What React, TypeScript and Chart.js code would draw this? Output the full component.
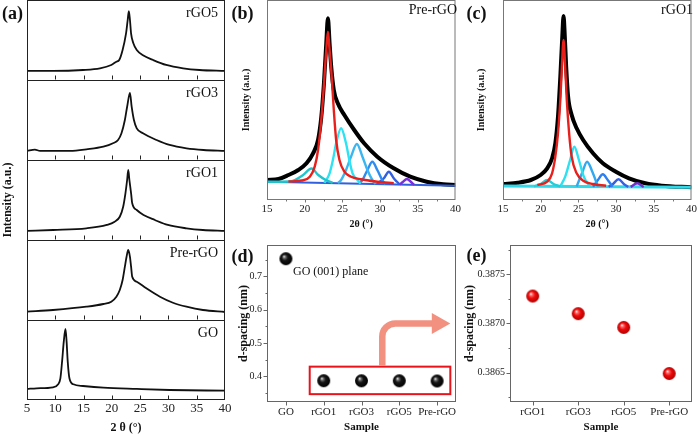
import React, { useEffect, useRef } from 'react';
import { Chart, registerables } from 'chart.js';

Chart.register(...registerables);

const FONT = "'Liberation Serif', 'Times New Roman', Times, serif";

// ---------------- Panel (a): XRD patterns (2θ, intensity a.u.) ----------------
const xrdAxisTicks = [5, 10, 15, 20, 25, 30, 35, 40];
const xrdInnerTicks = [10, 15, 20, 25, 30, 35];
const stackNames = ['GO', 'Pre-rGO', 'rGO1', 'rGO3', 'rGO5'];

const xrd_rGO5: [number, number][] = [
  [5, 11.3], [9.6, 11.3], [14.9, 12.5], [17.9, 14.6], [19.9, 18.8], [20.8, 22.9], [21.3, 25],
  [21.9, 37.5], [22.5, 58], [22.8, 75], [23.0, 86], [23.2, 75], [23.4, 58], [23.8, 46],
  [24.4, 37.5], [25.5, 31], [27.3, 25], [29.6, 18.8], [32.6, 14.6], [35.5, 12.5], [40, 11.3],
];
const xrd_rGO3: [number, number][] = [
  [5, 11.3], [6.4, 13], [7.3, 11.3], [12.6, 11.5], [15.5, 13.4], [18.5, 16.6], [20.2, 20.9],
  [21.1, 25], [21.7, 33.4], [22.3, 50], [22.7, 66.6], [23.2, 84], [23.5, 66.6], [23.9, 50],
  [24.4, 39.6], [25.5, 33.4], [27.9, 25], [30.2, 18.8], [33.2, 14.6], [36.2, 12.5], [40, 11.3],
];
const xrd_rGO1: [number, number][] = [
  [5, 11.3], [9.6, 12.5], [15.5, 14.6], [19.1, 18.8], [20.5, 22.9], [21.4, 29.1], [22.0, 41.6],
  [22.4, 58.4], [22.7, 75], [22.9, 87.5], [23.1, 75], [23.4, 58.4], [23.6, 45.9], [24.4, 37.5],
  [25.6, 31.3], [27.6, 25], [29.9, 18.8], [33.2, 14.6], [36.1, 12.5], [40, 11.3],
];
const xrd_PrerGO: [number, number][] = [
  [5, 10.4], [9.6, 12.5], [15.5, 16.6], [18.5, 20], [19.9, 22.9], [20.8, 29.1], [21.4, 37.5],
  [21.9, 50], [22.3, 66.6], [22.6, 79], [22.9, 87.5], [23.2, 79], [23.4, 66.6], [23.6, 54],
  [24.4, 47.9], [26.1, 39.6], [28.5, 29.1], [30.8, 21.6], [33.2, 16.6], [36.1, 12.5], [40, 10],
];
const xrd_GO: [number, number][] = [
  [5, 13.8], [6.7, 14.6], [9.6, 15.9], [10.5, 19.6], [10.9, 27.1], [11.2, 47.9], [11.5, 72.9],
  [11.8, 88.8], [12.0, 72.9], [12.2, 47.9], [12.5, 27.1], [13.2, 19.6], [14.9, 17.5],
  [18.5, 15.4], [24.4, 13.8], [30.2, 12.5], [40, 11.6],
];
const xrdSeries: Record<string, [number, number][]> = {
  GO: xrd_GO, 'Pre-rGO': xrd_PrerGO, rGO1: xrd_rGO1, rGO3: xrd_rGO3, rGO5: xrd_rGO5,
};

// ---------------- Panel (b): Pre-rGO peak fitting ----------------
const fitTicks = [15, 20, 25, 30, 35, 40];
const fitMinorTicks = [17.5, 22.5, 27.5, 32.5, 37.5];

const b_measured: [number, number][] = [
  [15, 20], [16.53, 21], [17.84, 25], [19.15, 30], [20.24, 36.7], [21.11, 46.7], [21.77, 60],
  [22.2, 83], [22.55, 116.7], [22.86, 156.7], [23.08, 181.7], [23.3, 156.7], [23.52, 133],
  [23.86, 110], [24.39, 96.7], [25.26, 85], [26.57, 70], [27.88, 56.7], [29.63, 43.3],
  [31.81, 31.7], [34.0, 23.3], [36.18, 18.3], [38.36, 15.7], [40, 15],
];
const b_peak1: [number, number][] = [
  [17.84, 18.5], [19.59, 19.5], [20.68, 23.3], [21.33, 33.3], [21.77, 50], [22.2, 80],
  [22.55, 115], [22.86, 150], [23.08, 168.3], [23.3, 150], [23.52, 130], [23.86, 90],
  [24.17, 60], [24.61, 40], [25.26, 28.3], [26.14, 23.3], [27.45, 20.7], [29.63, 18.3], [31.81, 16.7],
];
const b_peak2: [number, number][] = [
  [15, 18.3], [18.0, 18.5], [18.7, 20], [19.8, 25], [20.9, 31.5], [21.8, 25], [22.8, 20], [23.7, 17.2],
];
const b_peak3: [number, number][] = [
  [22.6, 17.1], [22.86, 20], [23.3, 26.7], [23.74, 40], [24.17, 56.7], [24.83, 71.7],
  [25.48, 56.7], [25.92, 40], [26.35, 26.7], [27.0, 20], [27.4, 16.3],
];
const b_peak4: [number, number][] = [
  [24.4, 16.8], [24.83, 20], [25.48, 30], [26.14, 43.3], [26.92, 56], [27.66, 43.3],
  [28.32, 30], [28.97, 20], [29.4, 16.0],
];
const b_peak5: [number, number][] = [
  [27.2, 16.35], [27.66, 20], [28.32, 30], [28.97, 38.3], [29.63, 30], [30.28, 20], [30.7, 15.8],
];
const b_peak6: [number, number][] = [
  [29.6, 16.0], [30.1, 19], [30.5, 21.7], [31.16, 28.3], [31.81, 21.7], [32.2, 18.5], [32.6, 15.5],
];
const b_peak7: [number, number][] = [
  [32.6, 15.5], [33.0, 18], [33.56, 21], [34.1, 18], [34.5, 15.2],
];
const b_baseline: [number, number][] = [[15, 18.3], [40, 14.3]];

// ---------------- Panel (c): rGO1 peak fitting ----------------
const c_measured: [number, number][] = [
  [15, 16], [16.95, 17.3], [18.69, 20], [19.99, 25], [20.86, 31.7], [21.51, 41.7], [21.94, 56.7],
  [22.29, 83], [22.6, 123], [22.86, 163], [23.03, 184], [23.2, 163], [23.38, 133], [23.64, 103],
  [24.11, 85], [24.77, 71.7], [25.63, 60], [26.94, 46.7], [28.24, 36.7], [29.97, 28.3],
  [31.71, 21.7], [33.88, 16.7], [36.05, 14.3], [40, 12.7],
];
const c_peak1: [number, number][] = [
  [19.56, 15], [20.86, 18.3], [21.51, 26.7], [21.94, 43.3], [22.29, 66.7], [22.6, 100],
  [22.81, 133], [23.03, 160], [23.25, 133], [23.46, 100], [23.77, 66.7], [24.11, 43.3],
  [24.77, 26.7], [25.63, 19.3], [26.94, 16], [28.67, 14.3],
];
const c_peak2: [number, number][] = [[19.12, 13.7], [20.0, 16], [20.86, 20], [21.7, 16], [22.6, 13.6]];
const c_peak3: [number, number][] = [
  [22.6, 13.6], [23.25, 23.3], [23.9, 40], [24.46, 53.3], [25.07, 40], [25.72, 23.3], [26.5, 13.4],
];
const c_peak4: [number, number][] = [
  [24.77, 13.5], [25.55, 28.3], [26.15, 38.3], [26.85, 28.3], [27.59, 13.3],
];
const c_peak5: [number, number][] = [
  [26.94, 13.3], [27.59, 20], [28.24, 25.7], [28.89, 20], [29.54, 13.2],
];
const c_peak6: [number, number][] = [
  [29.0, 13.2], [29.54, 15.7], [30.32, 20.7], [31.06, 15.7], [31.6, 13.1],
];
const c_peak7: [number, number][] = [[31.93, 13.1], [32.8, 16.7], [33.66, 13.0]];
const c_baseline: [number, number][] = [[15, 14], [40, 12.7]];

// ---------------- Panels (d), (e): d-spacing ----------------
const dSamples = ['GO', 'rGO1', 'rGO3', 'rGO5', 'Pre-rGO'];
const dSpacing = [0.7524, 0.38728, 0.3871, 0.38696, 0.38649];
const dYTicks = [0.4, 0.5, 0.6, 0.7];
const dYMinor = [0.35, 0.45, 0.55, 0.65, 0.75];

const eSamples = ['rGO1', 'rGO3', 'rGO5', 'Pre-rGO'];
const eSpacing = [0.38728, 0.3871, 0.38696, 0.38649];
const eYTicks = [0.3865, 0.387, 0.3875];
const eYMinor = [0.38625, 0.38675, 0.38725, 0.38775];

// ---------------- plugins ----------------
const framePlugin = {
  id: 'frame',
  afterDraw(chart: any, _args: any, o: any) {
    if (!o || !o.color) return;
    const { ctx, chartArea: a, scales } = chart;
    const xs = scales.x;
    const ys = scales.y;
    ctx.save();
    ctx.strokeStyle = o.color;
    ctx.lineWidth = 1;
    ctx.strokeRect(a.left + 0.5, a.top + 0.5, a.right - a.left - 1, a.bottom - a.top - 1);
    ctx.beginPath();
    (o.bands || []).forEach((v: number) => {
      const yy = Math.round(ys.getPixelForValue(v)) + 0.5;
      ctx.moveTo(a.left, yy);
      ctx.lineTo(a.right, yy);
    });
    const rows: number[] = o.xRows ? o.xRows.map((v: number) => Math.round(ys.getPixelForValue(v)) - 0.5) : [a.bottom - 0.5];
    const xDir = o.xIn ? -1 : 1;
    const drawX = (vals: number[], len: number) => {
      vals.forEach((v: number) => {
        const xx = Math.round(xs.getPixelForValue(v)) + 0.5;
        rows.forEach((ry: number) => {
          ctx.moveTo(xx, ry);
          ctx.lineTo(xx, ry + xDir * len);
        });
      });
    };
    drawX(o.xMajor || [], o.xLen || 4);
    drawX(o.xMinor || [], o.xMinorLen || 2);
    const drawY = (vals: number[], len: number) => {
      vals.forEach((v: number) => {
        const yy = Math.round(ys.getPixelForValue(v)) + 0.5;
        ctx.moveTo(a.left + 0.5, yy);
        ctx.lineTo(a.left + 0.5 - len, yy);
      });
    };
    drawY(o.yMajor || [], o.yLen || 4);
    drawY(o.yMinor || [], o.yMinorLen || 2);
    ctx.stroke();
    ctx.restore();
  },
};

const calloutPlugin = {
  id: 'callout',
  beforeDatasetsDraw(chart: any, _args: any, o: any) {
    if (!o || !o.box) return;
    const { ctx, scales } = chart;
    const x = scales.x;
    const y = scales.y;
    const bx0 = x.getPixelForValue(o.box.x0);
    const bx1 = x.getPixelForValue(o.box.x1);
    const byTop = y.getPixelForValue(o.box.yTop);
    const byBot = y.getPixelForValue(o.box.yBottom);
    ctx.save();
    ctx.strokeStyle = o.boxColor;
    ctx.lineWidth = 2;
    ctx.strokeRect(bx0, byTop, bx1 - bx0, byBot - byTop);
    const ax = x.getPixelForValue(o.arrow.x0);
    const ay = y.getPixelForValue(o.arrow.y);
    const tip = x.getPixelForValue(o.arrow.xTip);
    const base = x.getPixelForValue(o.arrow.xHead);
    const r = o.arrow.radius;
    ctx.strokeStyle = o.arrowColor;
    ctx.lineWidth = o.arrow.width;
    ctx.beginPath();
    ctx.moveTo(ax, byTop - 1);
    ctx.lineTo(ax, ay + r);
    ctx.arcTo(ax, ay, ax + r, ay, r);
    ctx.lineTo(base + 1, ay);
    ctx.stroke();
    ctx.fillStyle = o.arrowColor;
    ctx.beginPath();
    ctx.moveTo(base, ay - o.arrow.head);
    ctx.lineTo(tip, ay);
    ctx.lineTo(base, ay + o.arrow.head);
    ctx.closePath();
    ctx.fill();
    ctx.restore();
  },
};

function sphere(radius: number, stops: [number, string][]) {
  const c = document.createElement('canvas');
  const s = Math.ceil(radius * 2) + 2;
  c.width = s;
  c.height = s;
  const g = c.getContext('2d')!;
  const cx = s / 2;
  const grad = g.createRadialGradient(cx - radius * 0.3, cx - radius * 0.35, radius * 0.05, cx, cx, radius);
  stops.forEach(([p, col]) => grad.addColorStop(p, col));
  g.fillStyle = grad;
  g.beginPath();
  g.arc(cx, cx, radius, 0, Math.PI * 2);
  g.fill();
  return c;
}

const toXY = (pts: [number, number][], off = 0) => pts.map(([x, y]) => ({ x, y: y + off }));

const noPlugins = { legend: { display: false }, tooltip: { enabled: false } };

// ---------------- chart configs ----------------
function configA(): any {
  return {
    type: 'line',
    plugins: [framePlugin],
    data: {
      datasets: stackNames.map((n, i) => ({
        label: n,
        data: toXY(xrdSeries[n], i * 100),
        borderColor: '#111',
        borderWidth: 1.8,
        pointRadius: 0,
        cubicInterpolationMode: 'monotone',
      })),
    },
    options: {
      animation: false,
      responsive: false,
      layout: { padding: { top: 0, right: 10, left: 0, bottom: 0 } },
      plugins: {
        ...noPlugins,
        frame: { color: '#222', bands: [100, 200, 300, 400], xRows: [0, 100, 200, 300, 400], xIn: true, xMajor: xrdInnerTicks, xLen: 4 },
      },
      scales: {
        x: {
          type: 'linear', min: 5, max: 40,
          afterBuildTicks: (s: any) => { s.ticks = xrdAxisTicks.map((v) => ({ value: v })); },
          afterFit: (s: any) => { s.height = 34; },
          grid: { display: false, drawTicks: false }, border: { display: false },
          ticks: { padding: 1, color: '#222', maxRotation: 0, font: { size: 13, family: FONT } },
          title: { display: true, text: '2 θ (°)', color: '#111', padding: { top: 0, bottom: 0.5 }, font: { size: 12, weight: 'bold', family: FONT, lineHeight: 1 } },
        },
        y: {
          min: 0, max: 500,
          afterFit: (s: any) => { s.width = 27; },
          grid: { display: false, drawTicks: false }, border: { display: false },
          ticks: { display: false },
          title: { display: true, text: 'Intensity (a.u.)', color: '#111', padding: { top: 2, bottom: 0 }, font: { size: 12, weight: 'bold', family: FONT, lineHeight: 1 } },
        },
      },
    },
  };
}

function configFit(
  measured: [number, number][], comps: [number, number][][], colors: string[],
  baseline: [number, number][], baseColor: string, baseWidth: number, yTitleOffset: number, yWidth: number, padRight: number,
): any {
  const ds: any[] = [];
  comps.forEach((c, i) => ds.push({
    data: toXY(c), borderColor: colors[i], borderWidth: 2.4, pointRadius: 0,
    cubicInterpolationMode: 'monotone', order: 1 + i,
  }));
  ds.push({ data: toXY(baseline), borderColor: baseColor, borderWidth: baseWidth, pointRadius: 0, order: 20 });
  ds.push({
    data: toXY(measured), borderColor: '#000', borderWidth: 4, pointRadius: 0,
    cubicInterpolationMode: 'monotone', order: 30,
  });
  return {
    type: 'line',
    plugins: [framePlugin],
    data: { datasets: ds },
    options: {
      animation: false,
      responsive: false,
      layout: { padding: { top: 0, right: padRight, left: 0, bottom: 0 } },
      plugins: {
        ...noPlugins,
        frame: { color: '#777', xMajor: fitTicks.slice(1, -1), xMinor: fitMinorTicks, xLen: 3, xMinorLen: 2 },
      },
      scales: {
        x: {
          type: 'linear', min: 15, max: 40,
          afterBuildTicks: (s: any) => { s.ticks = fitTicks.map((v) => ({ value: v })); },
          afterFit: (s: any) => { s.height = 32; },
          grid: { display: false, drawTicks: false }, border: { display: false },
          ticks: { padding: 3, color: '#222', maxRotation: 0, font: { size: 11, family: FONT } },
          title: { display: true, text: '2θ (°)', color: '#111', padding: { top: 0, bottom: 3 }, font: { size: 10, weight: 'bold', family: FONT, lineHeight: 1 } },
        },
        y: {
          min: 0, max: 200,
          afterFit: (s: any) => { s.width = yWidth; },
          grid: { display: false, drawTicks: false }, border: { display: false },
          ticks: { display: false },
          title: { display: true, text: 'Intensity (a.u.)', color: '#111', padding: { top: yTitleOffset, bottom: 0 }, font: { size: 10, weight: 'bold', family: FONT, lineHeight: 1 } },
        },
      },
    },
  };
}

function configSpacing(
  labels: string[], values: number[], ymin: number, ymax: number, yTicks: number[], yMinor: number[],
  digits: number, pointImg: HTMLCanvasElement, yWidth: number, yTitleOffset: number, callout: any,
): any {
  return {
    type: 'line',
    plugins: [calloutPlugin, framePlugin],
    data: {
      labels,
      datasets: [{
        data: values, showLine: false, pointStyle: pointImg, pointRadius: 7,
      }],
    },
    options: {
      animation: false,
      responsive: false,
      layout: { padding: { top: 8, right: 6, left: 0, bottom: 0 } },
      plugins: {
        ...noPlugins,
        frame: { color: '#666', xMajor: labels.map((_, i) => i), xLen: 4, yMajor: yTicks, yMinor, yLen: 4, yMinorLen: 2 },
        callout: callout || {},
      },
      scales: {
        x: {
          type: 'category', offset: true,
          afterFit: (s: any) => { s.height = 32; },
          grid: { display: false, drawTicks: false }, border: { display: false },
          ticks: { padding: 4, color: '#222', maxRotation: 0, minRotation: 0, autoSkip: false, font: { size: 11, family: FONT } },
          title: { display: true, text: 'Sample', color: '#111', padding: { top: 0, bottom: 1 }, font: { size: 11, weight: 'bold', family: FONT, lineHeight: 1 } },
        },
        y: {
          min: ymin, max: ymax,
          afterBuildTicks: (s: any) => { s.ticks = yTicks.map((v) => ({ value: v })); },
          afterFit: (s: any) => { s.width = yWidth; },
          grid: { display: false, drawTicks: false }, border: { display: false },
          ticks: { padding: 5, color: '#222', font: { size: 10, family: FONT }, callback: (v: any) => Number(v).toFixed(digits) },
          title: { display: true, text: 'd-spacing (nm)', color: '#111', padding: { top: yTitleOffset, bottom: 0 }, font: { size: 12, weight: 'bold', family: FONT, lineHeight: 1 } },
        },
      },
    },
  };
}

const calloutD = {
  boxColor: '#e8141c',
  arrowColor: '#f2917f',
  box: { x0: 0.63, x1: 4.35, yTop: 0.4293, yBottom: 0.347 },
  arrow: { x0: 2.55, y: 0.5585, xTip: 4.35, xHead: 3.86, radius: 13, width: 6.5, head: 10.5 },
};

function ChartBox(props: { left: number; top: number; width: number; height: number; make: () => any }) {
  const ref = useRef<HTMLCanvasElement>(null);
  useEffect(() => {
    const chart = new Chart(ref.current as HTMLCanvasElement, props.make());
    return () => chart.destroy();
  }, []);
  return (
    <canvas
      ref={ref}
      width={props.width}
      height={props.height}
      style={{ position: 'absolute', left: props.left, top: props.top, width: props.width, height: props.height }}
    />
  );
}

const txt = (size: number, bold = false): React.CSSProperties => ({
  position: 'absolute', fontFamily: FONT, fontSize: size, lineHeight: `${size}px`,
  fontWeight: bold ? 'bold' : 'normal', color: '#111', whiteSpace: 'nowrap',
});

export default function App() {
  Chart.defaults.font.family = FONT;
  const blackSphere = sphere(6.5, [[0, '#e6e6e6'], [0.18, '#6a6a6a'], [0.45, '#161616'], [1, '#000']]);
  const redSphere = sphere(6.5, [[0, '#fff0f0'], [0.18, '#ff6a6a'], [0.5, '#ee0a0a'], [1, '#b00000']]);
  const bColors = ['#e8201c', '#22c4cc', '#2fe2f2', '#3cb6f0', '#2e8cf0', '#3460e0', '#7a30d8'];
  const cColors = ['#e8201c', '#26ccd6', '#2fe0f0', '#32a8f0', '#2e80f0', '#3460e8', '#7030d0'];
  return (
    <div style={{ position: 'absolute', left: 0, top: 0, width: 700, height: 434, background: '#fff', overflow: 'hidden' }}>
      <ChartBox left={0} top={0} width={235} height={434} make={configA} />
      <ChartBox left={232} top={0} width={232} height={232}
        make={() => configFit(b_measured, [b_peak1, b_peak2, b_peak3, b_peak4, b_peak5, b_peak6, b_peak7], bColors, b_baseline, '#3060dd', 2, 9, 35, 6)} />
      <ChartBox left={466} top={0} width={234} height={232}
        make={() => configFit(c_measured, [c_peak1, c_peak2, c_peak3, c_peak4, c_peak5, c_peak6, c_peak7], cColors, c_baseline, '#30d8e8', 3, 10, 37, 5)} />
      <ChartBox left={232} top={234} width={232} height={200}
        make={() => configSpacing(dSamples, dSpacing, 0.3235, 0.7935, dYTicks, dYMinor, 1, blackSphere, 35, 6, calloutD)} />
      <ChartBox left={462} top={234} width={238} height={200}
        make={() => configSpacing(eSamples, eSpacing, 0.3862, 0.3878, eYTicks, eYMinor, 4, redSphere, 48, 2, null)} />

      <div style={{ ...txt(18, true), left: 2, top: 4 }}>(a)</div>
      <div style={{ ...txt(18, true), left: 231.5, top: 4 }}>(b)</div>
      <div style={{ ...txt(18, true), left: 466.5, top: 4 }}>(c)</div>
      <div style={{ ...txt(18, true), left: 231.5, top: 247 }}>(d)</div>
      <div style={{ ...txt(18, true), left: 466.5, top: 245.5 }}>(e)</div>

      <div style={{ ...txt(14), right: 482, top: 6 }}>rGO5</div>
      <div style={{ ...txt(14), right: 482, top: 86 }}>rGO3</div>
      <div style={{ ...txt(14), right: 482, top: 166 }}>rGO1</div>
      <div style={{ ...txt(14), right: 482, top: 246 }}>Pre-rGO</div>
      <div style={{ ...txt(14), right: 482, top: 326 }}>GO</div>
      <div style={{ ...txt(14), right: 243, top: 2.5 }}>Pre-rGO</div>
      <div style={{ ...txt(14), right: 7, top: 2.5 }}>rGO1</div>
      <div style={{ ...txt(12), left: 293, top: 264.5 }}>GO (001) plane</div>
    </div>
  );
}
